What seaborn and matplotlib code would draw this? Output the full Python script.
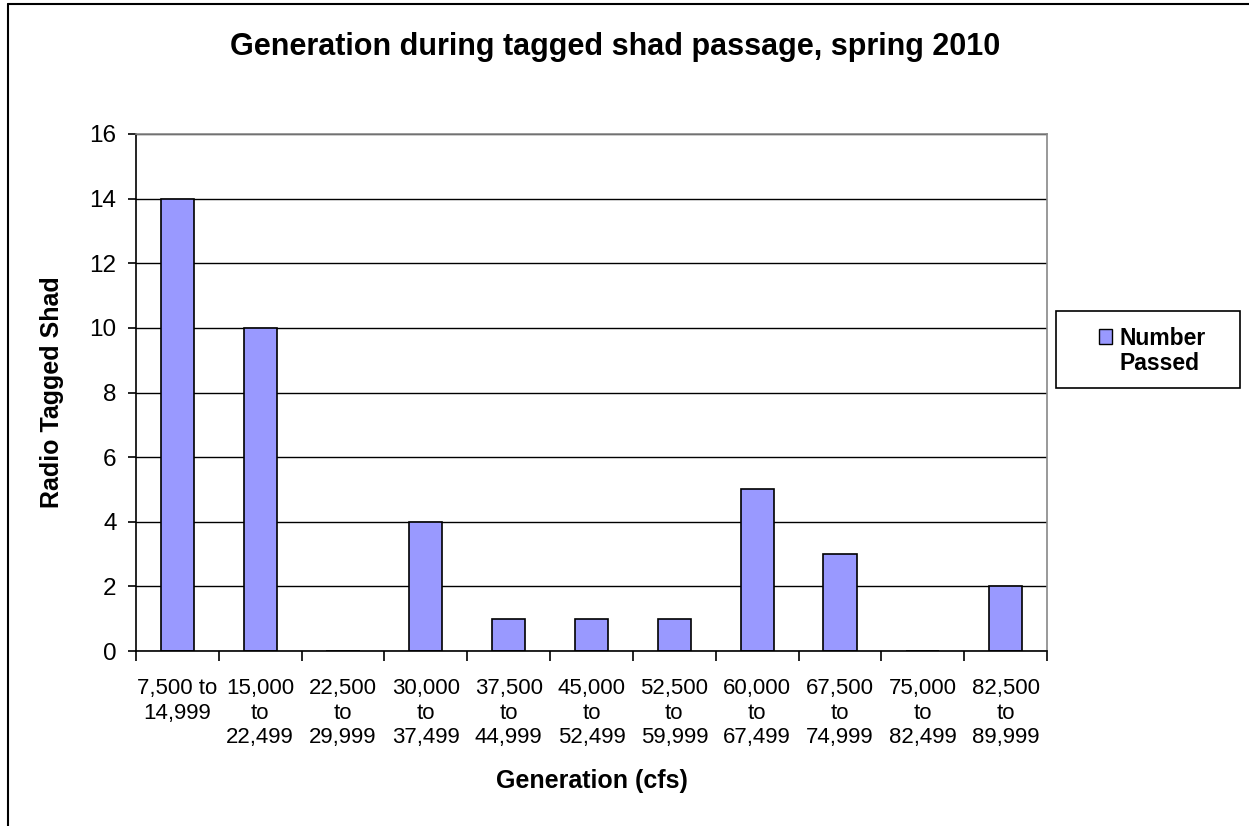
import matplotlib
matplotlib.use("Agg")
import matplotlib.pyplot as plt
from matplotlib.lines import Line2D
from matplotlib.patches import Patch, Rectangle
import seaborn as sns
import pandas as pd

categories = ["7,500 to\n14,999", "15,000\nto\n22,499", "22,500\nto\n29,999", "30,000\nto\n37,499",
              "37,500\nto\n44,999", "45,000\nto\n52,499", "52,500\nto\n59,999", "60,000\nto\n67,499",
              "67,500\nto\n74,999", "75,000\nto\n82,499", "82,500\nto\n89,999"]
values = [14, 10, 0, 4, 1, 1, 1, 5, 3, 0, 2]
yticks = [0, 2, 4, 6, 8, 10, 12, 14, 16]
title = "Generation during tagged shad passage, spring 2010"
xlabel = "Generation (cfs)"
ylabel = "Radio Tagged Shad"
series_lines = ["Number", "Passed"]

sns.set_style("white")
plt.rcParams['font.family'] = ['Liberation Sans', 'DejaVu Sans']
plt.rcParams['text.color'] = 'black'
plt.rcParams['axes.labelcolor'] = 'black'
plt.rcParams['xtick.color'] = 'black'
plt.rcParams['ytick.color'] = 'black'

df = pd.DataFrame({"cat": categories, "val": values})

fig = plt.figure(figsize=(12.49, 8.26), dpi=100)
ax = fig.add_axes([136/1249, 1-651/826, (1047-136)/1249, (651-134)/826])

bar_color = "#9999FF"
sns.barplot(data=df, x="cat", y="val", color=bar_color, width=0.4,
            edgecolor="black", linewidth=1.2, ax=ax, saturation=1)

ax.set_xlim(-0.5, len(categories) - 0.5)
ax.set_ylim(0, 16)
ax.set_yticks(yticks)
ax.set_yticklabels([str(t) for t in yticks], fontsize=17.5)
ax.yaxis.grid(True, color="black", linewidth=1.0)
ax.set_axisbelow(True)

# x ticks at boundaries, labels at centers
ax.set_xticks([i - 0.5 for i in range(len(categories) + 1)])
ax.set_xticklabels([""] * (len(categories) + 1))
ax.set_xticks(range(len(categories)), minor=True)
ax.set_xticklabels(categories, minor=True, fontsize=16, linespacing=1.22)
ax.tick_params(axis="x", which="major", direction="out", length=7, width=1.2, color="black", bottom=True)
ax.tick_params(axis="x", which="minor", length=0, pad=19.5)
ax.tick_params(axis="y", direction="out", length=6, width=1.2, color="black", left=True, pad=8)

for s in ["left", "bottom"]:
    ax.spines[s].set_color("black")
    ax.spines[s].set_linewidth(1.2)
for s in ["right", "top"]:
    ax.spines[s].set_color("#888888")
    ax.spines[s].set_linewidth(1.2)

ax.set_xlabel(xlabel, fontsize=18, fontweight="bold")
ax.set_ylabel(ylabel, fontsize=18, fontweight="bold")
ax.xaxis.set_label_coords(0.5, -(781-651)/(651-134))
ax.xaxis.label.set_va("center")
ax.yaxis.set_label_coords(-(136-52)/(1047-136), 0.5)
ax.yaxis.label.set_va("center")

fig.text(615/1249, 1-47/826, title, ha="center", va="center", fontsize=22, fontweight="bold")

# legend box
fig.add_artist(Rectangle((1056/1249, 1-388/826), (1240-1056)/1249, (388-311)/826,
                         transform=fig.transFigure, facecolor="white", edgecolor="black", linewidth=1.2))
handle = Patch(facecolor=bar_color, edgecolor="black", linewidth=1)
blank = Patch(facecolor="none", edgecolor="none")
leg = fig.legend([handle, blank], series_lines, loc="center", bbox_to_anchor=(1152/1249, 1-351/826),
                 frameon=False, prop={"weight": "bold", "size": 16.5}, handlelength=0.6, handleheight=0.6,
                 handletextpad=0.3, borderpad=0, borderaxespad=0, labelspacing=0.12)

fig.add_artist(Line2D([8/1249, 1], [1-4/826, 1-4/826], color="black", linewidth=1.5, transform=fig.transFigure))
fig.add_artist(Line2D([8/1249, 8/1249], [0, 1-4/826], color="black", linewidth=1.5, transform=fig.transFigure))

fig.savefig("out.png", dpi=100, facecolor="white")
